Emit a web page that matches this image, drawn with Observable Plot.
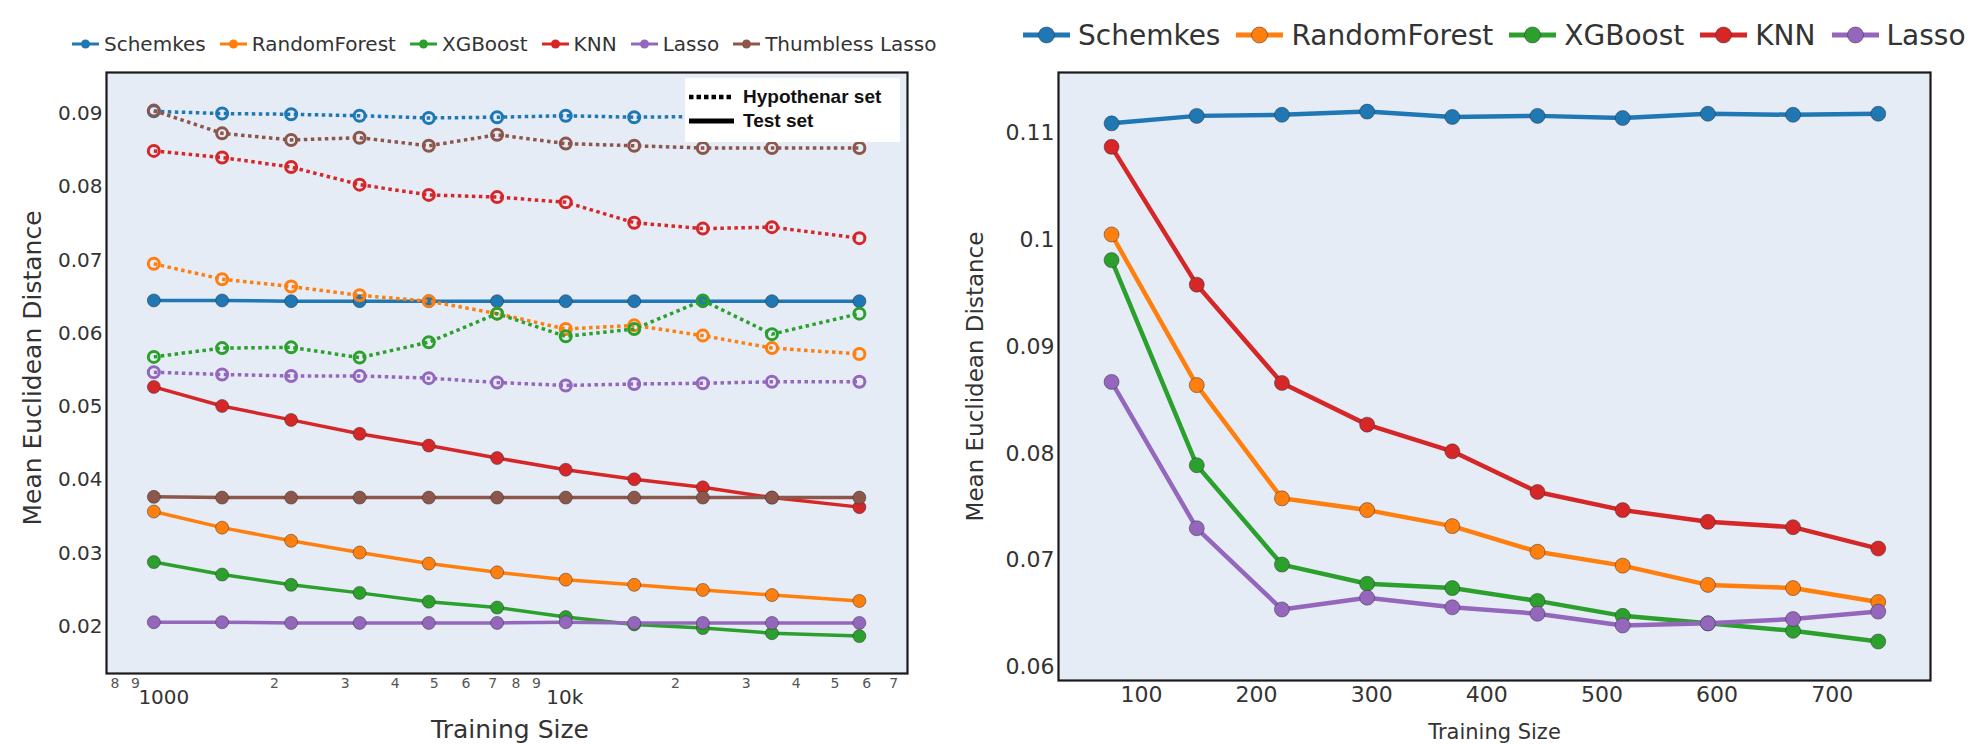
<!DOCTYPE html>
<html><head><meta charset="utf-8">
<script src="https://cdn.jsdelivr.net/npm/d3@7"></script>
<script src="https://cdn.jsdelivr.net/npm/@observablehq/plot@0.6"></script>
<style>
body{margin:0;background:#fff;width:1977px;height:744px;position:relative;overflow:hidden;font-family:"DejaVu Sans",sans-serif;}
#left{position:absolute;left:0;top:0}
#right{position:absolute;left:960px;top:0}
.legend{position:absolute;display:flex;align-items:center;white-space:nowrap;color:#333}
.legend .item{display:flex;align-items:center}
.legend svg{display:block}
#setbox{position:absolute;left:685px;top:78px;width:215px;height:64px;background:#fff;font-family:"Liberation Sans",Arial,sans-serif;font-weight:bold;font-size:19px;color:#111}
#setbox .row{position:absolute;left:0;height:24px;display:flex;align-items:center}
#setbox svg{display:block;margin-left:4px;margin-right:9px}
</style></head><body>
<div id="left"></div><div id="right"></div>
<div id="legL" class="legend"></div>
<div id="legR" class="legend"></div>
<div id="setbox"></div>
<script>
// ---------- data ----------
const leftModels = ["Schemkes", "RandomForest", "XGBoost", "KNN", "Lasso", "Thumbless Lasso"];
const rightModels = ["Schemkes", "RandomForest", "XGBoost", "KNN", "Lasso"];
const modelColors = ["#1f77b4", "#ff7f0e", "#2ca02c", "#d62728", "#9467bd", "#8c564b"];

const leftSizes = [1000, 1480, 2200, 3260, 4850, 7180, 10650, 15780, 23400, 34800, 57500];
// Hypothenar set (dotted, open circles)
const hypSchemkes = [0.0903, 0.0900, 0.0899, 0.0897, 0.0894, 0.0895, 0.0897, 0.0895, 0.0896, 0.0896, 0.0896];
const hypRandomForest = [0.0695, 0.0674, 0.0664, 0.0652, 0.0644, 0.0627, 0.0606, 0.0611, 0.0597, 0.0580, 0.0572];
const hypXGBoost = [0.0568, 0.0580, 0.0581, 0.0567, 0.0588, 0.0627, 0.0596, 0.0606, 0.0645, 0.0599, 0.0627];
const hypKNN = [0.0849, 0.0840, 0.0827, 0.0803, 0.0789, 0.0786, 0.0779, 0.0751, 0.0743, 0.0745, 0.0730];
const hypLasso = [0.0547, 0.0544, 0.0542, 0.0542, 0.0539, 0.0533, 0.0529, 0.0531, 0.0532, 0.0534, 0.0534];
const hypThumbless = [0.0904, 0.0873, 0.0864, 0.0867, 0.0856, 0.0871, 0.0859, 0.0856, 0.0853, 0.0853, 0.0853];
// Test set (solid, filled circles)
const testSchemkes = [0.0645, 0.0645, 0.0644, 0.0644, 0.0644, 0.0644, 0.0644, 0.0644, 0.0644, 0.0644, 0.0644];
const testRandomForest = [0.0357, 0.0335, 0.0317, 0.0301, 0.0286, 0.0274, 0.0264, 0.0257, 0.0250, 0.0243, 0.0235];
const testXGBoost = [0.0288, 0.0271, 0.0257, 0.0246, 0.0234, 0.0226, 0.0213, 0.0203, 0.0198, 0.0191, 0.0187];
const testKNN = [0.0527, 0.0501, 0.0482, 0.0463, 0.0447, 0.0430, 0.0414, 0.0401, 0.0390, 0.0376, 0.0363];
const testLasso = [0.0206, 0.0206, 0.0205, 0.0205, 0.0205, 0.0205, 0.0206, 0.0205, 0.0205, 0.0205, 0.0205];
const testThumbless = [0.0377, 0.0376, 0.0376, 0.0376, 0.0376, 0.0376, 0.0376, 0.0376, 0.0376, 0.0376, 0.0376];

const leftYTicks = [0.02, 0.03, 0.04, 0.05, 0.06, 0.07, 0.08, 0.09];
const leftMinorTicks = [800, 900, 2000, 3000, 4000, 5000, 6000, 7000, 8000, 9000, 20000, 30000, 40000, 50000, 60000, 70000];
const leftMinorLabels = ["8", "9", "2", "3", "4", "5", "6", "7", "8", "9", "2", "3", "4", "5", "6", "7"];
const leftMajorTicks = [1000, 10000];
const leftMajorLabels = ["1000", "10k"];

const rightSizes = [74, 148, 222, 296, 370, 444, 518, 592, 666, 740];
const rSchemkes = [0.1109, 0.1116, 0.1117, 0.1120, 0.1115, 0.1116, 0.1114, 0.1118, 0.1117, 0.1118];
const rRandomForest = [0.1005, 0.0864, 0.0758, 0.0747, 0.0732, 0.0708, 0.0695, 0.0677, 0.0674, 0.0661];
const rXGBoost = [0.0981, 0.0789, 0.0696, 0.0678, 0.0674, 0.0662, 0.0648, 0.0641, 0.0634, 0.0624];
const rKNN = [0.1087, 0.0958, 0.0866, 0.0827, 0.0802, 0.0764, 0.0747, 0.0736, 0.0731, 0.0711];
const rLasso = [0.0867, 0.0730, 0.0654, 0.0665, 0.0656, 0.0650, 0.0639, 0.0641, 0.0645, 0.0652];
const rightYTicks = [0.06, 0.07, 0.08, 0.09, 0.10, 0.11];
const rightXTicks = [100, 200, 300, 400, 500, 600, 700];

// ---------- build ----------
const hyp = [hypSchemkes, hypRandomForest, hypXGBoost, hypKNN, hypLasso, hypThumbless];
const test = [testSchemkes, testRandomForest, testXGBoost, testKNN, testLasso, testThumbless];
const rightVals = [rSchemkes, rRandomForest, rXGBoost, rKNN, rLasso];
const rows = (sizes, vals) => vals.map((v, i) => ({size: sizes[i], value: v}));
const BG = "#e5ecf6";

const leftMarks = [Plot.frame({fill: BG})];
leftModels.forEach((m, k) => {
  const c = modelColors[k];
  const h = rows(leftSizes, hyp[k]);
  const t = rows(leftSizes, test[k]);
  leftMarks.push(Plot.line(h, {x: "size", y: "value", stroke: c, strokeWidth: 3.5, strokeDasharray: "3.5,3.5", strokeLinecap: "butt", strokeLinejoin: "miter"}));
  leftMarks.push(Plot.dot(h, {x: "size", y: "value", r: 5.5, fill: "none", stroke: c, strokeWidth: 3}));
  leftMarks.push(Plot.line(t, {x: "size", y: "value", stroke: c, strokeWidth: 3.5}));
  leftMarks.push(Plot.dot(t, {x: "size", y: "value", r: 6.5, fill: c, stroke: "#333", strokeOpacity: 0.5, strokeWidth: 1}));
});
leftMarks.push(
  Plot.axisY({ticks: leftYTicks, tickSize: 0, tickPadding: 4, fontSize: 20, color: "#333", label: null, tickFormat: d => d.toFixed(2)}),
  Plot.text(leftMinorTicks, {x: d => d, text: (d, i) => leftMinorLabels[i], frameAnchor: "bottom", dy: 10, fontSize: 14, fill: "#555", textAnchor: "middle", lineAnchor: "middle"}),
  Plot.text(leftMajorTicks, {x: d => d, text: (d, i) => leftMajorLabels[i], frameAnchor: "bottom", dy: 24, dx: 10, fontSize: 20, fill: "#333", textAnchor: "middle", lineAnchor: "middle"}),
  Plot.text(["Training Size"], {frameAnchor: "bottom", dy: 56, dx: 3, fontSize: 25, fill: "#333", textAnchor: "middle", lineAnchor: "middle"}),
  Plot.text(["Mean Euclidean Distance"], {frameAnchor: "left", dx: -74, dy: -5, rotate: -90, fontSize: 25, fill: "#333", textAnchor: "middle", lineAnchor: "middle"}),
  Plot.frame({stroke: "#1a1a1a", strokeWidth: 2.2})
);

const leftPlot = Plot.plot({
  width: 940, height: 744,
  marginLeft: 106, marginRight: 33, marginTop: 72, marginBottom: 71,
  style: {fontFamily: "DejaVu Sans", background: "transparent", color: "#333"},
  x: {type: "log", domain: [762, 75800], label: null, axis: null},
  y: {domain: [0.0136, 0.0956], label: null},
  marks: leftMarks
});
document.getElementById("left").append(leftPlot);

const rightMarks = [Plot.frame({fill: BG})];
rightModels.forEach((m, k) => {
  const c = modelColors[k];
  const d = rows(rightSizes, rightVals[k]);
  rightMarks.push(Plot.line(d, {x: "size", y: "value", stroke: c, strokeWidth: 4.5}));
  rightMarks.push(Plot.dot(d, {x: "size", y: "value", r: 7.5, fill: c, stroke: "#333", strokeOpacity: 0.5, strokeWidth: 1}));
});
rightMarks.push(
  Plot.axisY({ticks: rightYTicks, tickSize: 0, tickPadding: 4, fontSize: 22, color: "#333", label: null, tickFormat: d => String(Math.round(d * 100) / 100)}),
  Plot.axisX({ticks: rightXTicks, tickSize: 0, tickPadding: 6, fontSize: 22, color: "#333", label: null}),
  Plot.text(["Training Size"], {frameAnchor: "bottom", dy: 52, fontSize: 21, fill: "#333", textAnchor: "middle", lineAnchor: "middle"}),
  Plot.text(["Mean Euclidean Distance"], {frameAnchor: "left", dx: -83, rotate: -90, fontSize: 23, fill: "#333", textAnchor: "middle", lineAnchor: "middle"}),
  Plot.frame({stroke: "#1a1a1a", strokeWidth: 2.2})
);
const rightPlot = Plot.plot({
  width: 1017, height: 744,
  marginLeft: 98, marginRight: 47, marginTop: 72, marginBottom: 64,
  style: {fontFamily: "DejaVu Sans", background: "transparent", color: "#333"},
  x: {domain: [27.9, 785.4], label: null},
  y: {domain: [0.05875, 0.11566], label: null},
  marks: rightMarks
});
document.getElementById("right").append(rightPlot);

// ---------- legends ----------
const NS = "http://www.w3.org/2000/svg";
function swatch(w, h, color, lw, r, outline) {
  const s = document.createElementNS(NS, "svg");
  s.setAttribute("width", w); s.setAttribute("height", h);
  const l = document.createElementNS(NS, "line");
  l.setAttribute("x1", 0); l.setAttribute("x2", w); l.setAttribute("y1", h / 2); l.setAttribute("y2", h / 2);
  l.setAttribute("stroke", color); l.setAttribute("stroke-width", lw);
  s.append(l);
  const c = document.createElementNS(NS, "circle");
  c.setAttribute("cx", w / 2); c.setAttribute("cy", h / 2); c.setAttribute("r", r);
  c.setAttribute("fill", color);
  if (outline) { c.setAttribute("stroke", "#333"); c.setAttribute("stroke-opacity", 0.5); c.setAttribute("stroke-width", 1); }
  s.append(c);
  return s;
}
function buildLegend(el, models, opts) {
  Object.assign(el.style, {left: opts.left + "px", top: opts.top + "px", height: opts.h + "px", fontSize: opts.fs + "px"});
  models.forEach((m, k) => {
    const it = document.createElement("div"); it.className = "item";
    const sw = swatch(opts.sw, opts.h, modelColors[k], opts.lw, opts.r, opts.outline);
    sw.style.marginRight = opts.g1 + "px";
    const tx = document.createElement("span"); tx.textContent = m; tx.style.marginRight = opts.g2 + "px";
    it.append(sw, tx); el.append(it);
  });
}
buildLegend(document.getElementById("legL"), leftModels, {left: 72, top: 32, h: 24, fs: 20, sw: 27, lw: 3, r: 4.5, g1: 5, g2: 14, outline: false});
buildLegend(document.getElementById("legR"), rightModels, {left: 1023, top: 17, h: 36, fs: 28, sw: 47, lw: 5, r: 8, g1: 8, g2: 16, outline: true});

// set legend box
const box = document.getElementById("setbox");
[["Hypothenar set", "4.5,3", 7], ["Test set", null, 31]].forEach(([label, dash, top]) => {
  const row = document.createElement("div"); row.className = "row"; row.style.top = top + "px";
  const s = document.createElementNS(NS, "svg"); s.setAttribute("width", 45); s.setAttribute("height", 24);
  const l = document.createElementNS(NS, "line");
  l.setAttribute("x1", 0); l.setAttribute("x2", 45); l.setAttribute("y1", 12); l.setAttribute("y2", 12);
  l.setAttribute("stroke", "#000"); l.setAttribute("stroke-width", dash ? 4.5 : 5);
  if (dash) l.setAttribute("stroke-dasharray", dash);
  s.append(l);
  const t = document.createElement("span"); t.textContent = label;
  row.append(s, t); box.append(row);
});
</script>
</body></html>
